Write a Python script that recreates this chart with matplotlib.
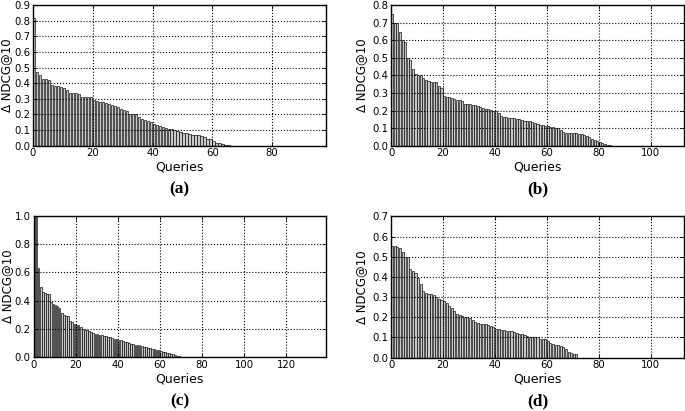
import numpy as np
import matplotlib
matplotlib.use('Agg')
import matplotlib.pyplot as plt

###############################################################################
# Delta NDCG@10 per query, sorted
n_queries = [98, 113, 139, 113]
y_max = [0.9, 0.8, 1.0, 0.7]
y_step = [0.1, 0.1, 0.2, 0.1]
panel_labels = ['(a)', '(b)', '(c)', '(d)']

delta_a = [0.82, 0.47, 0.45, 0.43, 0.43, 0.42, 0.39, 0.385, 0.38, 0.375,
           0.37, 0.355, 0.34, 0.335, 0.335, 0.33, 0.315, 0.315, 0.315, 0.31,
           0.29, 0.285, 0.28, 0.28, 0.275, 0.27, 0.26, 0.255, 0.245, 0.235,
           0.23, 0.22, 0.205, 0.205, 0.20, 0.185, 0.17, 0.165, 0.16, 0.15,
           0.14, 0.135, 0.125, 0.12, 0.115, 0.11, 0.105, 0.10, 0.095, 0.085,
           0.08, 0.08, 0.075, 0.07, 0.07, 0.07, 0.065, 0.055, 0.045, 0.04,
           0.03, 0.02, 0.015, 0.01, 0.005, 0.002]
delta_b = [0.75, 0.70, 0.70, 0.645, 0.60, 0.59, 0.50, 0.485, 0.435, 0.41,
           0.405, 0.40, 0.385, 0.375, 0.37, 0.365, 0.365, 0.36, 0.34, 0.33,
           0.285, 0.28, 0.275, 0.27, 0.265, 0.26, 0.26, 0.255, 0.24, 0.235,
           0.235, 0.23, 0.23, 0.225, 0.22, 0.215, 0.21, 0.21, 0.205, 0.20,
           0.195, 0.185, 0.17, 0.165, 0.165, 0.16, 0.155, 0.155, 0.15, 0.15,
           0.145, 0.14, 0.14, 0.14, 0.135, 0.13, 0.125, 0.12, 0.115, 0.11,
           0.11, 0.105, 0.105, 0.10, 0.10, 0.09, 0.08, 0.075, 0.075, 0.07,
           0.07, 0.07, 0.065, 0.065, 0.06, 0.055, 0.05, 0.04, 0.03, 0.025,
           0.02, 0.015, 0.01, 0.005, 0.002]
delta_c = [1.0, 1.0, 0.63, 0.50, 0.46, 0.455, 0.45, 0.445, 0.39, 0.38,
           0.37, 0.365, 0.35, 0.31, 0.30, 0.295, 0.29, 0.26, 0.25, 0.235,
           0.23, 0.225, 0.215, 0.20, 0.195, 0.19, 0.185, 0.18, 0.17, 0.165,
           0.165, 0.16, 0.155, 0.15, 0.15, 0.145, 0.14, 0.135, 0.13, 0.13,
           0.125, 0.12, 0.115, 0.11, 0.105, 0.10, 0.095, 0.095, 0.09, 0.09,
           0.085, 0.08, 0.075, 0.07, 0.065, 0.065, 0.06, 0.06, 0.055, 0.05,
           0.045, 0.04, 0.035, 0.03, 0.03, 0.025, 0.02, 0.015, 0.01, 0.008,
           0.005, 0.002]
delta_d = [0.555, 0.555, 0.55, 0.545, 0.525, 0.50, 0.50, 0.44, 0.43, 0.42,
           0.395, 0.365, 0.33, 0.32, 0.315, 0.315, 0.31, 0.30, 0.29, 0.285,
           0.28, 0.27, 0.255, 0.245, 0.23, 0.215, 0.21, 0.205, 0.20, 0.20,
           0.195, 0.185, 0.175, 0.17, 0.165, 0.165, 0.165, 0.16, 0.155, 0.15,
           0.14, 0.14, 0.135, 0.135, 0.13, 0.13, 0.13, 0.125, 0.12, 0.115,
           0.115, 0.11, 0.105, 0.10, 0.10, 0.10, 0.10, 0.095, 0.095, 0.095,
           0.085, 0.075, 0.07, 0.065, 0.065, 0.06, 0.055, 0.045, 0.03, 0.025,
           0.02, 0.02]

all_delta = [delta_a, delta_b, delta_c, delta_d]

###############################################################################
# Plot
plt.rcParams['xtick.direction'] = 'in'
plt.rcParams['ytick.direction'] = 'in'
plt.rcParams['xtick.top'] = True
plt.rcParams['ytick.right'] = True

fig = plt.figure(figsize=(6.85, 4.11), dpi=100)
positions = [[0.048, 0.6455, 0.428, 0.342],
             [0.571, 0.6455, 0.428, 0.342],
             [0.049, 0.1307, 0.427, 0.344],
             [0.571, 0.1297, 0.428, 0.344]]
ylabel_x = [-0.068, -0.078, -0.068, -0.078]

for i in range(4):
    ax = fig.add_axes(positions[i])
    n = n_queries[i]
    vals = np.zeros(n)
    vals[:len(all_delta[i])] = all_delta[i]
    ax.bar(np.arange(n), vals, width=0.8, align='edge', color='#c8c8c8',
           edgecolor='black', linewidth=0.45)
    ax.set_xlim(0, n)
    ax.set_ylim(0, y_max[i])
    ax.set_yticks(np.arange(0, y_max[i] + 1e-6, y_step[i]))
    ax.set_xticks(np.arange(0, n, 20))
    ax.grid(True, linestyle=':', color='black', linewidth=0.8)
    ax.tick_params(labelsize=7.3, length=3, width=0.6, pad=2)
    for sp in ax.spines.values():
        sp.set_linewidth(1.0)
    ax.set_xlabel('Queries', fontsize=9)
    ax.xaxis.set_label_coords(0.5, -0.105)
    ax.set_ylabel('\u0394 NDCG@10', fontsize=8.5)
    ax.yaxis.set_label_coords(ylabel_x[i], 0.5)
    ax.text(0.5, -0.255, panel_labels[i], transform=ax.transAxes, ha='center',
            va='top', fontsize=12.5, fontweight='bold', family='Liberation Serif')

plt.savefig('out.png', dpi=100)
